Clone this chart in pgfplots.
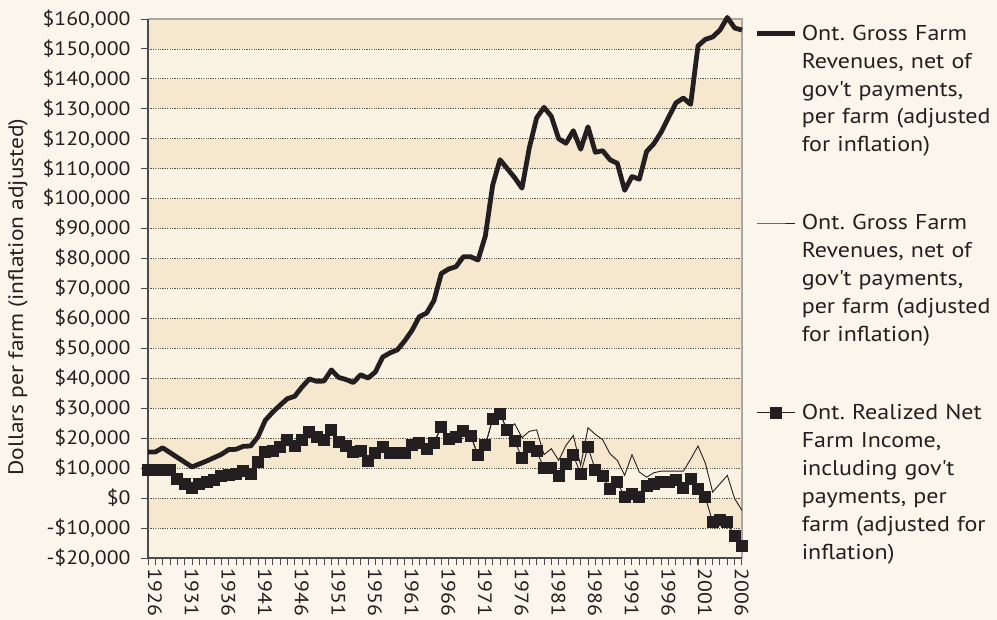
\documentclass[border=0pt]{standalone}
\usepackage{pgfplots}
\pgfplotsset{compat=1.18}
\usepackage{pgfplotstable}
\usepackage{fontspec}
\setmainfont[FakeStretch=1.12]{PT Sans}
\definecolor{ink}{HTML}{231F20}
\definecolor{bandA}{HTML}{F6E8CE}
\definecolor{bandB}{HTML}{FAF3E4}
\definecolor{pagebg}{HTML}{FBF6EC}
\definecolor{gridc}{HTML}{5E554B}
\definecolor{framec}{HTML}{A7A7A7}
\definecolor{axisc}{HTML}{4A4A4A}

\pgfplotstableread{
year gross thin net
1926 15400 9300 9300
1927 15400 9300 9300
1928 16800 9300 9300
1929 15200 9300 9300
1930 13600 6500 6500
1931 12000 4800 4800
1932 10400 3500 3500
1933 11400 4800 4800
1934 12400 5400 5400
1935 13500 5900 5900
1936 14600 7300 7300
1937 16200 7600 7600
1938 16300 8200 8200
1939 17300 9000 9000
1940 17400 8200 8200
1941 20500 12000 12000
1942 26000 15400 15400
1943 28700 15900 15900
1944 31000 17000 17000
1945 33200 19300 19300
1946 34000 17300 17300
1947 37100 19300 19300
1948 39800 22000 22000
1949 39000 20400 20400
1950 39100 19300 19300
1951 42800 22600 22600
1952 40300 18700 18700
1953 39600 17300 17300
1954 38600 15400 15400
1955 41200 15900 15900
1956 40100 12300 12300
1957 42100 15000 15000
1958 47100 17000 17000
1959 48500 15000 15000
1960 49500 15000 15000
1961 52500 15000 15000
1962 56000 17600 17600
1963 60600 18400 18400
1964 61800 16500 16500
1965 66000 18400 18400
1966 75000 23900 23900
1967 76500 19800 19800
1968 77300 20400 20400
1969 80600 22400 22400
1970 80600 20900 20900
1971 79500 14300 14300
1972 87500 17600 17600
1973 104500 26500 26500
1974 113000 28200 28200
1975 110000 22600 22600
1976 107000 24800 19000
1977 103500 20200 13500
1978 117000 22300 17000
1979 127000 22800 15700
1980 130500 14500 10000
1981 127500 16500 10000
1982 120000 12600 7250
1983 118500 17600 11500
1984 122700 20900 14250
1985 116500 10900 8150
1986 124000 23500 17000
1987 115500 21300 9500
1988 116000 19500 7250
1989 113000 14800 3150
1990 111800 12600 5350
1991 102800 7600 330
1992 107400 14500 1450
1993 106500 8700 330
1994 115800 7000 3900
1995 118400 8500 4800
1996 122300 9000 5350
1997 127200 9000 5350
1998 132000 9000 5900
1999 133600 9000 3450
2000 131500 13000 6450
2001 151000 17400 3150
2002 153200 11700 330
2003 154000 2000 -8000
2004 156300 4800 -7200
2005 160500 7600 -8000
2006 157000 -200 -12800
2007 156300 -4100 -16100
}\farmdata

\begin{document}
\frenchspacing
\begin{tikzpicture}
\fill[pagebg] (-148bp,-62bp) rectangle (849bp,558bp);
\begin{axis}[
  at={(0,0)}, anchor=south west,
  scale only axis, width=594bp, height=539bp,
  xmin=1926, xmax=2007, ymin=-20000, ymax=160000,
  clip=false,
  scaled y ticks=false, scaled x ticks=false,
  axis line style={draw=none},
  xtick={1926,1931,1936,1941,1946,1951,1956,1961,1966,1971,1976,1981,1986,1991,1996,2001,2006},
  xticklabels={1926,1931,1936,1941,1946,1951,1956,1961,1966,1971,1976,1981,1986,1991,1996,2001,2006},
  minor xtick={1926,1927,...,2007},
  ytick={-20000,-10000,0,10000,20000,30000,40000,50000,60000,70000,80000,90000,100000,110000,120000,130000,140000,150000,160000},
  yticklabels={{-\$20,000},{-\$10,000},{\$0},{\$10,000},{\$20,000},{\$30,000},{\$40,000},{\$50,000},{\$60,000},{\$70,000},{\$80,000},{\$90,000},{\$100,000},{\$110,000},{\$120,000},{\$130,000},{\$140,000},{\$150,000},{\$160,000}},
  xtick pos=left, ytick pos=left,
  tick align=outside,
  major tick length=7bp, minor tick length=7bp,
  tick style={draw=axisc, line width=0.9bp},
  xticklabel style={xshift=7bp, rotate=-90, anchor=west, font=\fontsize{19.5}{19.5}\selectfont, text=ink},
  yticklabel style={font=\fontsize{19.5}{19.5}\selectfont, text=ink, xshift=-7bp},
  every axis y label/.style={at={(axis description cs:-0.2189,0.4842)}, rotate=90, anchor=center, font=\fontsize{21}{21}\selectfont, text=ink},
  ylabel={Dollars per farm (inflation adjusted)},
  legend style={at={(rel axis cs:1,1)}, anchor=north west, xshift=13bp, yshift=-6bp,
    draw=none, fill=none, inner sep=0pt, outer sep=0pt, row sep=173bp, column sep=4bp,
    font=\fontsize{21.5}{28}\selectfont, text=ink,
    nodes={text width=230bp, align=left, inner sep=0pt},
    cells={anchor=base west}},
  legend image code/.code={\draw[mark repeat=2,mark phase=2,#1] plot coordinates {(0bp,7bp) (19bp,7bp) (38bp,7bp)};},
]
% alternating bands
\fill[bandB] (axis cs:1926,-20000) rectangle (axis cs:2007,160000);
\fill[bandA] (axis cs:1926,-10000) rectangle (axis cs:2007,0);
\fill[bandA] (axis cs:1926,10000) rectangle (axis cs:2007,20000);
\fill[bandA] (axis cs:1926,30000) rectangle (axis cs:2007,40000);
\fill[bandA] (axis cs:1926,50000) rectangle (axis cs:2007,60000);
\fill[bandA] (axis cs:1926,70000) rectangle (axis cs:2007,80000);
\fill[bandA] (axis cs:1926,90000) rectangle (axis cs:2007,100000);
\fill[bandA] (axis cs:1926,110000) rectangle (axis cs:2007,120000);
\fill[bandA] (axis cs:1926,130000) rectangle (axis cs:2007,140000);
\fill[bandA] (axis cs:1926,150000) rectangle (axis cs:2007,160000);
% dotted grid
\pgfplotsinvokeforeach{-10000,0,10000,20000,30000,40000,50000,60000,70000,80000,90000,100000,110000,120000,130000,140000,150000}{
  \draw[gridc, line width=0.8bp, dash pattern=on 1.2bp off 1.2bp] (axis cs:1926,#1) -- (axis cs:2007,#1);
}
% frame
\draw[framec, line width=1.6bp] (axis cs:1926,160000) -- (axis cs:2007,160000) -- (axis cs:2007,-20000);
\draw[axisc, line width=1.4bp] (axis cs:1926,160000) -- (axis cs:1926,-20000) -- (axis cs:2007,-20000);

\addplot[ink, line width=4.8bp, line join=round] table[x=year, y=gross] {\farmdata};
\addlegendentry{Ont. Gross Farm\\Revenues, net of\\gov\textquotesingle t payments,\\per farm (adjusted\\for inflation)}
\addplot[ink, line width=0.9bp] table[x=year, y=thin] {\farmdata};
\addlegendentry{Ont. Gross Farm\\Revenues, net of\\gov\textquotesingle t payments,\\per farm (adjusted\\for inflation)}
\addplot[ink, line width=0.9bp, mark=square*, mark size=5.5bp, mark options={solid, fill=ink, draw=ink}] table[x=year, y=net] {\farmdata};
\addlegendentry{Ont. Realized Net\\Farm Income,\\including gov\textquotesingle t\\payments, per\\farm (adjusted for\\inflation)}
\end{axis}
\pgfresetboundingbox
\path (-148bp,-62bp) rectangle (849bp,558bp);
\end{tikzpicture}
\end{document}
